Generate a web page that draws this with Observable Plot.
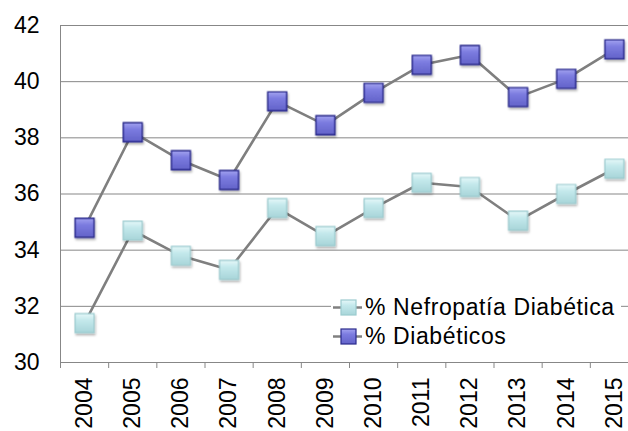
<!DOCTYPE html>
<html><head><meta charset="utf-8">
<script src="https://cdn.jsdelivr.net/npm/d3@7"></script>
<script src="https://cdn.jsdelivr.net/npm/@observablehq/plot@0.6"></script>
<style>
body{margin:0;background:#fff;font-family:"Liberation Sans",Arial,sans-serif;}
#wrap{position:relative;width:628px;height:431px;overflow:hidden;background:#fff}
#legend{position:absolute;left:331px;top:293px;width:290px;height:58px;background:#fff;font-size:23px;letter-spacing:0.6px;color:#000}
.row{display:flex;align-items:center;height:29px}
.row span{margin-left:2px;line-height:29px}
</style></head><body><div id="wrap"></div>
<script>
const years=[2004,2005,2006,2007,2008,2009,2010,2011,2012,2013,2014,2015];
const diabeticos=[34.8,38.2,37.2,36.5,39.3,38.45,39.6,40.6,40.95,39.45,40.1,41.15];
const nefropatia=[31.4,34.7,33.8,33.3,35.5,34.5,35.5,36.4,36.25,35.05,36.0,36.9];
const yTicks=[30,32,34,36,38,40,42];
const seriesNames=["% Nefropatía Diabética","% Diabéticos"];

const data=years.map((y,i)=>({year:y,diab:diabeticos[i],nef:nefropatia[i]}));
const boundaries=[years[0]-0.5,...years.map(y=>y+0.5)];
const grid="#878787";

const chart=Plot.plot({
  width:628,height:431,
  marginLeft:60,marginRight:-10,marginTop:25,marginBottom:69,
  style:{fontSize:"23px",fontFamily:"'Liberation Sans',Arial,sans-serif",color:"#000",background:"#fff",overflow:"hidden"},
  x:{domain:[years[0]-0.5,years[years.length-1]+0.5],label:null},
  y:{domain:[30,42],label:null},
  marks:[
    Plot.gridY(yTicks,{stroke:grid,strokeOpacity:1,strokeWidth:1}),
    Plot.ruleX([boundaries[0]],{stroke:grid,strokeWidth:1}),
    Plot.ruleY([30],{stroke:grid,strokeWidth:1}),
    Plot.axisX(boundaries,{tickSize:6,stroke:grid,tickFormat:()=>"",label:null}),
    Plot.axisX(years,{tickSize:0,tickPadding:15,tickRotate:-90,tickFormat:d=>String(d),fill:"#000",label:null}),
    Plot.axisY(yTicks,{tickSize:0,tickPadding:21,fill:"#000",label:null}),
    Plot.lineY(data,{x:"year",y:"nef",stroke:"#7f7f7f",strokeWidth:2.6}),
    Plot.lineY(data,{x:"year",y:"diab",stroke:"#7f7f7f",strokeWidth:2.6}),
    Plot.dot(data,{x:"year",y:"nef",symbol:"square",r:10.7,fill:"url(#gN)",stroke:"#9ccbcf",strokeWidth:1.2}),
    Plot.dot(data,{x:"year",y:"diab",symbol:"square",r:10.7,fill:"url(#gD)",stroke:"#2b2b8c",strokeWidth:1.4})
  ]
});

const defs=`<defs>
<linearGradient id="gD" x1="0" y1="0" x2="0" y2="1">
<stop offset="0" stop-color="#a3a3f0"/><stop offset="0.35" stop-color="#7c7ce0"/><stop offset="1" stop-color="#6363c9"/></linearGradient>
<linearGradient id="gN" x1="0" y1="0" x2="0" y2="1">
<stop offset="0" stop-color="#e6f8f9"/><stop offset="0.35" stop-color="#c4e9ec"/><stop offset="1" stop-color="#a8d5d9"/></linearGradient>
<filter id="sh" x="-30%" y="-30%" width="160%" height="160%"><feDropShadow dx="1" dy="2" stdDeviation="1" flood-color="#000" flood-opacity="0.3"/></filter>
</defs>`;
chart.insertAdjacentHTML("afterbegin",defs);
d3.select(chart).selectAll('g[aria-label="dot"]').attr("filter","url(#sh)");

const wrap=document.getElementById("wrap");
wrap.appendChild(chart);

const legend=document.createElement("div");
legend.id="legend";
const sw=[{fill:"url(#lgN)",stroke:"#9ccbcf"},{fill:"url(#lgD)",stroke:"#2b2b8c"}];
legend.innerHTML=`<svg width="0" height="0" style="position:absolute"><defs>
<linearGradient id="lgD" x1="0" y1="0" x2="0" y2="1"><stop offset="0" stop-color="#a3a3f0"/><stop offset="0.35" stop-color="#7c7ce0"/><stop offset="1" stop-color="#6363c9"/></linearGradient>
<linearGradient id="lgN" x1="0" y1="0" x2="0" y2="1"><stop offset="0" stop-color="#e6f8f9"/><stop offset="0.35" stop-color="#c4e9ec"/><stop offset="1" stop-color="#a8d5d9"/></linearGradient>
</defs></svg>`+seriesNames.map((n,i)=>`<div class="row"><svg width="32" height="29"><line x1="2" x2="31" y1="14.5" y2="14.5" stroke="#808080" stroke-width="2.5"/><rect x="10" y="7" width="15" height="15" fill="${sw[i].fill}" stroke="${sw[i].stroke}" stroke-width="1.2"/></svg><span>${n}</span></div>`).join("");
wrap.appendChild(legend);
</script></body></html>
